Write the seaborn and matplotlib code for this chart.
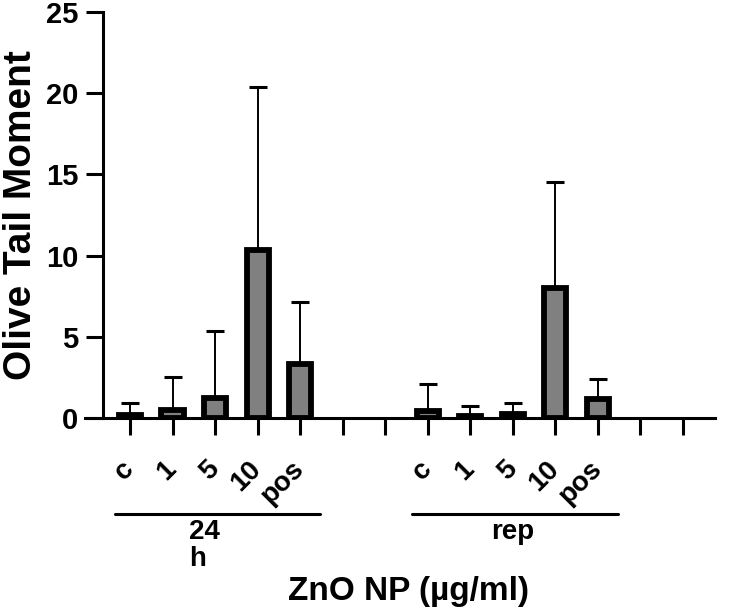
import numpy as np
import pandas as pd
import seaborn as sns
import matplotlib.pyplot as plt

# Slot labels along the x axis (two empty slots after each group)
groups = ["24\nh", "rep"]
doses = ["c", "1", "5", "10", "pos"]
slots_per_group = 7

# Mean olive tail moment and upper error (SD)
mean_24h = [0.20, 0.51, 1.26, 10.32, 3.35]
err_24h = [0.72, 2.01, 4.11, 10.06, 3.82]
mean_rep = [0.44, 0.17, 0.24, 8.02, 1.16]
err_rep = [1.65, 0.60, 0.68, 6.52, 1.26]

y_ticks = [0, 5, 10, 15, 20, 25]


def build_frame():
    """Put both groups (plus their empty slots) in one long table."""
    rows = []
    for g, means, errs in [(groups[0], mean_24h, err_24h), (groups[1], mean_rep, err_rep)]:
        for i in range(slots_per_group):
            if i < len(doses):
                rows.append({"slot": f"{g}|{doses[i]}", "label": doses[i], "group": g,
                             "value": means[i], "err": errs[i]})
            else:
                rows.append({"slot": f"{g}|empty{i}", "label": "", "group": g,
                             "value": np.nan, "err": np.nan})
    return pd.DataFrame(rows)


def plot_tail_moment(df):
    sns.set_style("ticks")
    plt.rcParams["font.family"] = ["Liberation Sans", "DejaVu Sans"]
    plt.rcParams["font.weight"] = "bold"
    plt.rcParams["text.color"] = "black"
    plt.rcParams["axes.labelcolor"] = "black"
    plt.rcParams["xtick.color"] = "black"
    plt.rcParams["ytick.color"] = "black"
    plt.rcParams["axes.edgecolor"] = "black"

    fig = plt.figure(figsize=(7.35, 6.12), dpi=100)
    ax = fig.add_axes([0.1395, 0.3165, 0.8333, 0.6645])

    sns.barplot(data=df, x="slot", y="value", order=list(df["slot"]), color="#808080",
                width=0.52, edgecolor="black", linewidth=4.2, saturation=1, ax=ax)

    pos = np.arange(len(df))
    ok = df["value"].notna().values
    ax.errorbar(pos[ok], df["value"][ok], yerr=[np.zeros(ok.sum()), df["err"][ok]],
                fmt="none", ecolor="black", elinewidth=1.4, capsize=6.5, capthick=2.2,
                zorder=1)

    ax.set_xlim(-0.647, 13.76)
    ax.set_ylim(0, 25)
    ax.set_yticks(y_ticks)
    ax.set_xticks(pos)
    ax.set_xticklabels(df["label"], rotation=45, ha="right", va="center",
                       rotation_mode="anchor", fontsize=20, fontweight="bold",
                       color="black")
    ax.tick_params(axis="y", length=12.5, width=2.2, pad=5, labelsize=21)
    ax.tick_params(axis="x", length=12.5, width=2.2, pad=21)
    for lab in ax.get_yticklabels():
        lab.set_fontweight("bold")

    sns.despine(ax=ax)
    ax.spines["left"].set_linewidth(2.2)
    ax.spines["bottom"].set_linewidth(2.2)
    ax.spines["bottom"].set_bounds(-1.06, 13.76)

    ax.set_xlabel("")
    ax.set_ylabel("Olive Tail Moment", fontsize=28, fontweight="bold")
    ax.yaxis.set_label_coords(-0.104, 0.5)

    # group brackets under the tick labels
    for gi, g in enumerate(groups):
        first = gi * slots_per_group
        last = first + len(doses) - 1
        ax.plot([first - 0.36, last + 0.48], [-5.87, -5.87], color="black", lw=2.2,
                clip_on=False)
        center = (first + last) / 2
        if "\n" in g:
            ax.text(center - 0.62, -6.2, g, ha="left", va="top", fontsize=20,
                    fontweight="bold", linespacing=1.05)
        else:
            ax.text(center, -6.2, g, ha="center", va="top", fontsize=20,
                    fontweight="bold")

    ax.text(0.5, -0.427, "ZnO NP (µg/ml)", transform=ax.transAxes, ha="center",
            va="center", fontsize=24, fontweight="bold")

    fig.savefig("out.png", dpi=100)


def main():
    df = build_frame()
    plot_tail_moment(df)


if __name__ == "__main__":
    main()
